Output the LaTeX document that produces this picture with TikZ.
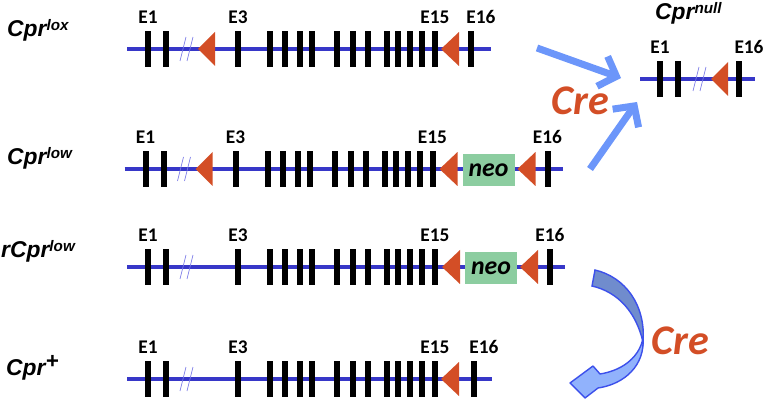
\documentclass[tikz,border=0pt]{standalone}
\usepackage{fontspec}
\setmainfont{Carlito}
\newfontfamily\cprfont{Liberation Sans}
\usetikzlibrary{positioning,arrows.meta}
\definecolor{lineblue}{RGB}{55,55,200}
\definecolor{slashblue}{RGB}{120,120,230}
\definecolor{loxred}{RGB}{211,78,38}
\definecolor{creblue}{RGB}{108,150,250}
\definecolor{neogreen}{RGB}{140,205,160}
\definecolor{ribbondark}{RGB}{112,140,205}
\definecolor{ribbonlight}{RGB}{145,178,252}
\definecolor{ribbonedge}{RGB}{60,80,235}
\newcommand{\cprsup}[2][13]{\raisebox{0.3em}{\fontsize{#1}{#1}\selectfont #2}}

\begin{document}
\begin{tikzpicture}[
    x=0.03cm, y=-0.03cm,
    geneline/.style={draw=lineblue, line width=2.6pt},
    exon/.style={rectangle, fill=black, inner sep=0pt,
                 minimum width=0.18cm, minimum height=1.08cm},
    exonlabel/.style={font=\fontsize{16.5}{16.5}\selectfont\bfseries, inner sep=0pt},
    gap/.style={draw=slashblue, line width=0.6pt},
    loxp/.style={fill=loxred},
    neobox/.style={rectangle, fill=neogreen, inner sep=0pt,
                   minimum width=1.56cm, minimum height=0.96cm,
                   font=\fontsize{22}{22}\selectfont\bfseries\itshape},
    cprlabel/.style={font=\cprfont\fontsize{19.5}{19.5}\selectfont\bfseries\itshape,
                     inner sep=0pt, anchor=base west},
    crelabel/.style={font=\fontsize{36}{36}\selectfont\bfseries\itshape,
                     text=loxred, inner sep=0pt},
    crearrow/.style={draw=creblue, line width=6pt,
                     -{Straight Barb[length=0.45cm, width=0.95cm]}}
]
\useasboundingbox (0,0) rectangle (767,405);

% Cpr lox
\node[cprlabel] (loxname) at (7,37) {Cpr\cprsup{lox}};
\begin{scope}[shift={(0,49)}]
\draw[geneline] (127,0) -- (491,0);
\draw[gap] (180,12) -- (186,-12) (187,12) -- (193,-12);
\foreach \x [count=\i] in {148,166,238,270,285,300,312,337,353,368,387,398,410,422,435}
    \node[exon] (lox\i) at (\x,0) {};
\node[exon] (lox16) at (471,0) {};
\fill[loxp] (198,0) -- (215,-17) -- (215,17) -- cycle;
\fill[loxp] (441,0) -- (459,-17) -- (459,17) -- cycle;
\node[exonlabel, above=0.2cm of lox1] {E1};
\node[exonlabel, above=0.2cm of lox3] {E3};
\node[exonlabel, above=0.2cm of lox15] {E15};
\node[exonlabel, above=0.2cm of lox16, xshift=0.3cm] {E16};
\end{scope}

% Cpr low
\node[cprlabel] (lowname) at (7,165) {Cpr\cprsup{low}};
\begin{scope}[shift={(-2.5,169)}]
\draw[geneline] (127,0) -- (565,0);
\draw[gap] (180,12) -- (186,-12) (187,12) -- (193,-12);
\foreach \x [count=\i] in {148,166,238,270,285,300,312,337,353,368,387,398,410,422,435}
    \node[exon] (low\i) at (\x,0) {};
\node[exon] (low16) at (550,0) {};
\fill[loxp] (198,0) -- (215,-17) -- (215,17) -- cycle;
\fill[loxp] (442,0) -- (460,-17) -- (460,17) -- cycle;
\node[neobox] (lowneo) at (491,1) {neo};
\fill[loxp] (520,0) -- (538,-17) -- (538,17) -- cycle;
\node[exonlabel, above=0.2cm of low1] {E1};
\node[exonlabel, above=0.2cm of low3] {E3};
\node[exonlabel, above=0.2cm of low15] {E15};
\node[exonlabel, above=0.2cm of low16] {E16};
\end{scope}

% rCpr low
\node[cprlabel] (rlowname) at (1,258) {rCpr\cprsup{low}};
\begin{scope}[shift={(0,267)}]
\draw[geneline] (127,0) -- (565,0);
\draw[gap] (180,12) -- (186,-12) (187,12) -- (193,-12);
\foreach \x [count=\i] in {148,166,238,270,285,300,312,337,353,368,387,398,410,422,435}
    \node[exon] (rlow\i) at (\x,0) {};
\node[exon] (rlow16) at (550,0) {};
\fill[loxp] (442,0) -- (460,-17) -- (460,17) -- cycle;
\node[neobox] (rlowneo) at (491,1) {neo};
\fill[loxp] (520,0) -- (538,-17) -- (538,17) -- cycle;
\node[exonlabel, above=0.2cm of rlow1] {E1};
\node[exonlabel, above=0.2cm of rlow3] {E3};
\node[exonlabel, above=0.2cm of rlow15] {E15};
\node[exonlabel, above=0.2cm of rlow16] {E16};
\end{scope}

% Cpr +
\node[cprlabel] (plusname) at (6,375) {Cpr\cprsup[19]{+}};
\begin{scope}[shift={(0,379)}]
\draw[geneline] (127,0) -- (492,0);
\draw[gap] (180,12) -- (186,-12) (187,12) -- (193,-12);
\foreach \x [count=\i] in {148,166,238,270,285,300,312,337,353,368,387,398,410,422,435}
    \node[exon] (plus\i) at (\x,0) {};
\node[exon] (plus16) at (474,0) {};
\fill[loxp] (441,0) -- (459,-17) -- (459,17) -- cycle;
\node[exonlabel, above=0.2cm of plus1] {E1};
\node[exonlabel, above=0.2cm of plus3] {E3};
\node[exonlabel, above=0.2cm of plus15] {E15};
\node[exonlabel, above=0.2cm of plus16, xshift=0.3cm] {E16};
\end{scope}

% Cpr null
\node[cprlabel] (nullname) at (655,20) {Cpr\cprsup{null}};
\begin{scope}[shift={(0,79)}]
\draw[geneline] (640,0) -- (755,0);
\draw[gap] (693,12) -- (699,-12) (700,12) -- (706,-12);
\node[exon] (null1) at (660,0) {};
\node[exon] (null2) at (678,0) {};
\node[exon] (null16) at (739,0) {};
\fill[loxp] (711,0) -- (728,-17) -- (728,17) -- cycle;
\node[exonlabel, above=0.2cm of null1] {E1};
\node[exonlabel, above=0.2cm of null16, xshift=0.3cm] {E16};
\end{scope}

% Cre deletion to null
\coordinate (loxout) at (537,48);
\coordinate (nullin) at (621,78);
\coordinate (lowout) at (590,169);
\coordinate (nullup) at (637,102);
\draw[crearrow] (loxout) -- (nullin);
\draw[crearrow] (lowout) -- (nullup);
\node[crelabel] (cretop) at (580,101) {Cre};

% Cre excision of neo
\filldraw[fill=ribbondark, draw=ribbonedge, line width=1.2pt]
    (595,270) .. controls (625,277) and (646,305) .. (643,342)
    .. controls (636,312) and (618,292) .. (592,286) -- cycle;
\filldraw[fill=ribbonlight, draw=ribbonedge, line width=1.2pt, line join=round]
    (643,338) .. controls (640,355) and (625,370) .. (600,374)
    -- (593,366) -- (570,383) -- (585,398) -- (598,388)
    .. controls (625,384) and (645,365) .. (643,338) -- cycle;
\node[crelabel] (crebottom) at (680,341) {Cre};

\end{tikzpicture}
\end{document}
